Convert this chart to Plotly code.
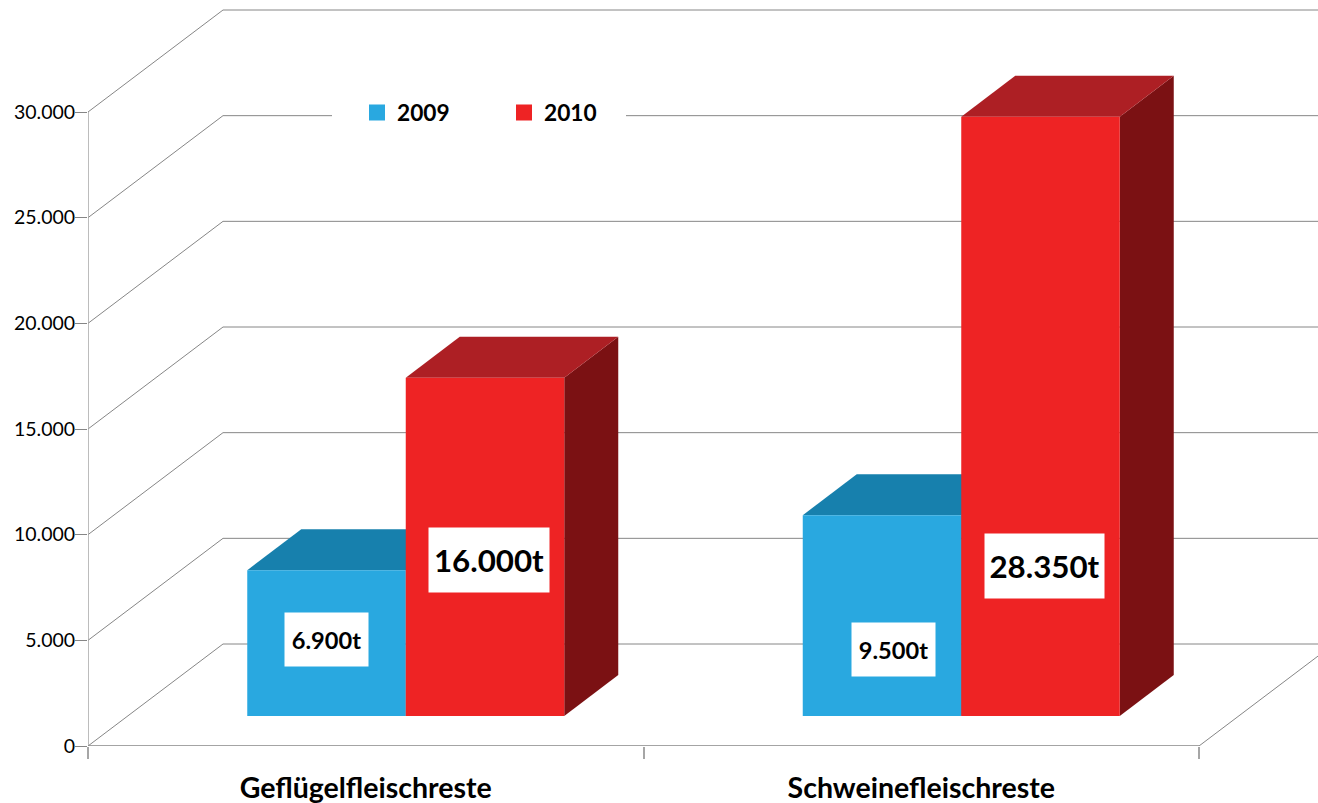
import plotly.graph_objects as go

# Chart data
categories = ["Geflügelfleischreste", "Schweinefleischreste"]
years = ["2009", "2010"]
values_2009 = [6900, 9500]
values_2010 = [16000, 28350]
labels_2009 = ["6.900t", "9.500t"]
labels_2010 = ["16.000t", "28.350t"]
y_ticks = [0, 5000, 10000, 15000, 20000, 25000, 30000]

# Look of the fake 3D
FONT = "Lato"
BLUE, BLUE_TOP, BLUE_SIDE = "#29A8E0", "#1780AD", "#125F80"
RED, RED_TOP, RED_SIDE = "#EE2324", "#AD1F24", "#7B1113"
GRID = "#868686"
AXIS = "#A6A6A6"

PX_X = 2 / 1111      # x units per pixel
PX_Y = 30000 / 634   # y units per pixel
X_END = 1230 * PX_X
Y_END = 741 * PX_Y

wall_dx, wall_dy = 135 * PX_X, 102 * PX_Y     # depth of the chart box
floor_dx, floor_dy = 40 * PX_X, 30 * PX_Y     # bars stand this far into the box
depth_dx, depth_dy = 54 * PX_X, 41 * PX_Y     # depth of a bar
bar_w = 158.5 * PX_X

fig = go.Figure()


def line(x, y, color=GRID, width=1, z=0):
    fig.add_trace(go.Scatter(x=x, y=y, mode="lines", line=dict(color=color, width=width),
                             showlegend=False, hoverinfo="skip", cliponaxis=True, zorder=z))


def face(x, y, color, z):
    fig.add_trace(go.Scatter(x=x, y=y, mode="lines", fill="toself", fillcolor=color,
                             line=dict(color=color, width=0), showlegend=False,
                             hoverinfo="skip", zorder=z))


# Walls and floor
for t in y_ticks:
    line([0, wall_dx, X_END], [t, t + wall_dy, t + wall_dy])
line([2, X_END], [0, (X_END - 2) * wall_dy / wall_dx])
line([0, 0], [0, y_ticks[-1]], color=AXIS, width=1.5)
line([0, 2], [0, 0], color=GRID, width=1.5)

# Bars: side and top faces first, the front is a real bar
series = [
    (years[0], values_2009, BLUE, BLUE_TOP, BLUE_SIDE, -bar_w, 1),
    (years[1], values_2010, RED, RED_TOP, RED_SIDE, 0, 4),
]
for name, vals, col, col_top, col_side, off, z in series:
    for i, v in enumerate(vals):
        x0 = i + 0.5 + floor_dx + off
        x1 = x0 + bar_w
        top = v + floor_dy
        face([x1, x1, x1 + depth_dx, x1 + depth_dx, x1],
             [floor_dy, top, top + depth_dy, floor_dy + depth_dy, floor_dy], col_side, z)
        face([x0, x1, x1 + depth_dx, x0 + depth_dx, x0],
             [top, top, top + depth_dy, top + depth_dy, top], col_top, z)
    fig.add_trace(go.Bar(x=[0.5, 1.5], y=vals, base=floor_dy, width=bar_w,
                         offset=floor_dx + off, marker=dict(color=col, line=dict(width=0)),
                         showlegend=False, hoverinfo="skip", zorder=z + 1))
    fig.add_trace(go.Scatter(x=[None], y=[None], mode="markers", name=name,
                             marker=dict(symbol="square", size=17, color=col),
                             showlegend=True, zorder=z))

# White boxes with the values
label_boxes = [
    (326, 638.5, labels_2009[0], 23.6, 83, 53),
    (489, 559, labels_2010[0], 31.3, 120, 64),
    (893.5, 648.5, labels_2009[1], 23.6, 83, 53),
    (1044.5, 565, labels_2010[1], 31.3, 119, 64),
]
annotations = []
for px, py, text, size, w, h in label_boxes:
    annotations.append(dict(x=(px - 88) * PX_X, y=(745 - py) * PX_Y, text=text, showarrow=False,
                            width=w, height=h, bgcolor="white", borderpad=0, valign="middle",
                            font=dict(family=FONT, size=size, color="black", weight="bold")))

fig.update_layout(
    width=1318,
    height=803,
    margin=dict(l=88, r=0, t=5, b=57),
    paper_bgcolor="white",
    plot_bgcolor="white",
    separators=",.",
    barmode="overlay",
    font=dict(family=FONT, color="black"),
    annotations=annotations,
    shapes=[dict(type="rect", layer="above", xref="x", yref="y", line_width=0, fillcolor="white",
                 x0=244 * PX_X, x1=538 * PX_X, y0=610 * PX_Y, y1=650 * PX_Y)],
    legend=dict(orientation="h", xref="paper", yref="paper", x=0.2187, y=0.8545, xanchor="left",
                yanchor="middle", bgcolor="rgba(0,0,0,0)", entrywidth=102, entrywidthmode="pixels",
                font=dict(family=FONT, size=22.7, color="black", weight="bold")),
    xaxis=dict(range=[0, X_END], tickmode="array", tickvals=[0.5, 1.5], ticktext=categories,
               ticks="", showgrid=False, zeroline=False, showline=False, ticklabelstandoff=22,
               tickfont=dict(family=FONT, size=28.5, color="black", weight="bold"),
               minor=dict(tickmode="array", tickvals=[0, 1, 2], ticks="outside", ticklen=12,
                          tickcolor=AXIS, tickwidth=1.5, showgrid=False)),
    yaxis=dict(range=[0, Y_END], tickmode="array", tickvals=y_ticks, tickformat=",.0f",
               ticks="outside", ticklen=12, tickcolor=GRID, tickwidth=1, showgrid=False,
               ticklabelstandoff=-4, zeroline=False, showline=False,
               tickfont=dict(family=FONT, size=19.5, color="black")),
)

# Drop the page's default body margin so the figure fills the window
fig.write_html("out.html", config=dict(displayModeBar=False),
               post_script="document.body.style.margin = '0';")
